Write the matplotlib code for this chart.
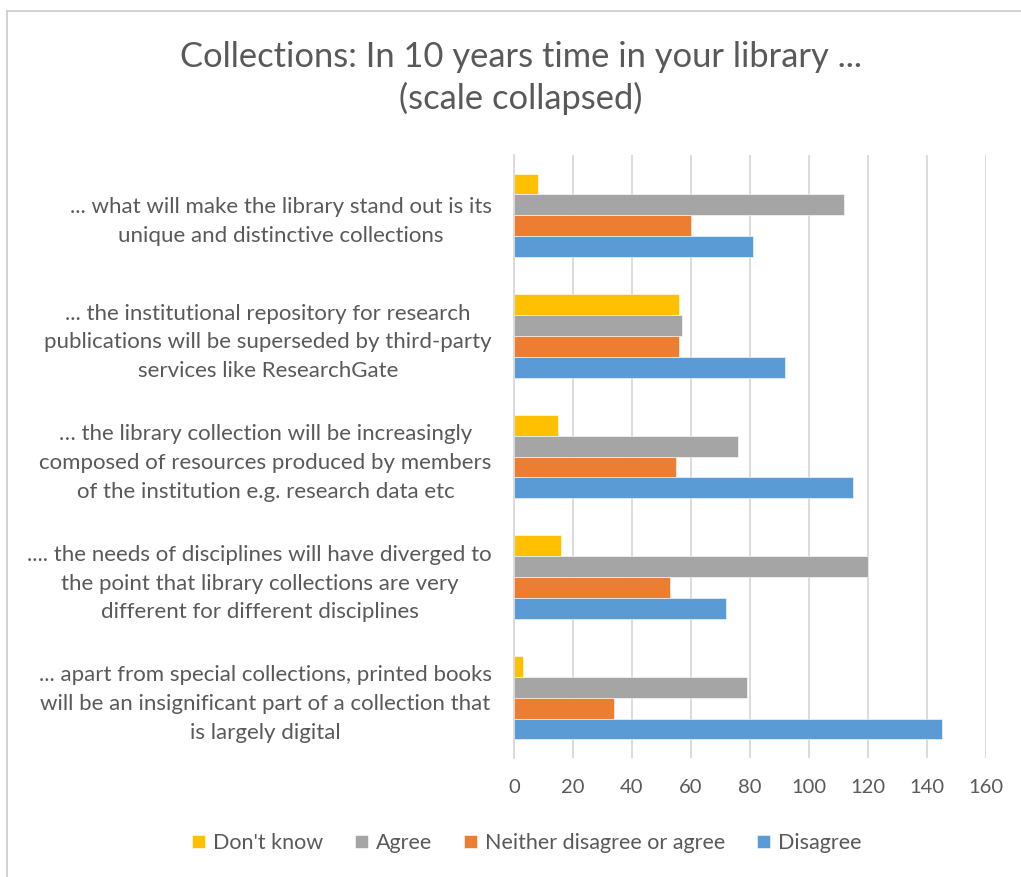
import numpy as np
import matplotlib.pyplot as plt
import matplotlib as mpl
from matplotlib.patches import Rectangle

mpl.rcParams['font.family'] = ['Lato', 'DejaVu Sans']

# categories listed top to bottom as in the chart
categories = [
    "... what will make the library stand out is its\nunique and distinctive collections",
    "... the institutional repository for research\npublications will be superseded by third-party\nservices like ResearchGate",
    "\u2026 the library collection will be increasingly\ncomposed of resources produced by members\nof the institution e.g. research data etc",
    ".... the needs of disciplines will have diverged to\nthe point that library collections are very\ndifferent for different disciplines",
    "... apart from special collections, printed books\nwill be an insignificant part of a collection that\nis largely digital",
]
dont_know = [8, 56, 15, 16, 3]
agree = [112, 57, 76, 120, 79]
neither = [60, 56, 55, 53, 34]
disagree = [81, 92, 115, 72, 145]

series_names = ["Don't know", "Agree", "Neither disagree or agree", "Disagree"]
colors = ["#FFC000", "#A5A5A5", "#ED7D31", "#5B9BD5"]
text_col = "#595959"

fig = plt.figure(figsize=(10.21, 8.77), dpi=100)
ax = fig.add_axes([514/1021, 1-758/877, (986-514)/1021, (758-155)/877])

n = len(categories)
y = np.arange(n)[::-1]  # first category at top
h = 0.1725
offsets = [1.5*h, 0.5*h, -0.5*h, -1.5*h]
data = [dont_know, agree, neither, disagree]
for vals, off, c, name in zip(data, offsets, colors, series_names):
    ax.barh(y + off, vals, height=h, color=c, label=name, edgecolor='white', linewidth=0.4)

ax.set_xlim(0, 160)
ax.set_ylim(-0.5, n - 0.5)
ax.set_xticks(np.arange(0, 161, 20))
ax.set_yticks(y)
ax.set_yticklabels(categories, multialignment='center', linespacing=1.55)
ax.tick_params(axis='y', length=0, pad=16, labelsize=16, labelcolor=text_col)
ax.tick_params(axis='x', length=0, pad=15, labelsize=14.5, labelcolor=text_col)
ax.grid(axis='x', color='#D9D9D9', linewidth=1.3)
ax.set_axisbelow(True)
for s in ['top', 'right', 'bottom']:
    ax.spines[s].set_visible(False)
ax.spines['left'].set_color('#D9D9D9')
ax.spines['left'].set_linewidth(1.3)

fig.text(0.51, 1-78/877, "Collections: In 10 years time in your library ...\n(scale collapsed)",
         ha='center', va='center', multialignment='center', fontsize=24.8, color=text_col, linespacing=1.3)

fig.legend(loc='center', bbox_to_anchor=(0.516, 1-843/877), ncol=4, frameon=False,
           fontsize=15.5, labelcolor=text_col, handlelength=0.6, handleheight=0.6,
           handletextpad=0.35, columnspacing=1.5)

fig.patches.append(Rectangle((7/1021, -0.05), 1.1, 1-11/877+0.05, transform=fig.transFigure,
                             fill=False, edgecolor='#C8C8C8', linewidth=1.2))

fig.savefig("out.png", dpi=100, facecolor='white')
